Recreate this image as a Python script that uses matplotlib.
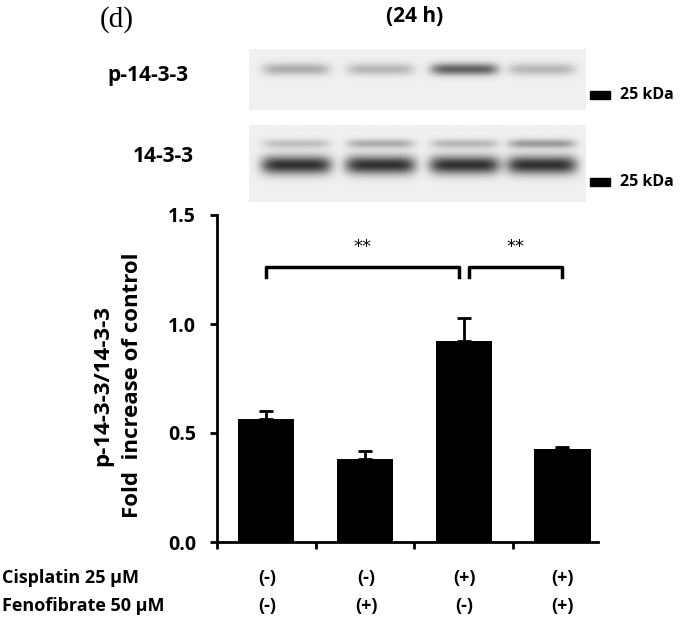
import numpy as np
import matplotlib.pyplot as plt

# bar data
conditions = ["ctrl", "feno", "cis", "cis+feno"]
means = [0.564, 0.381, 0.922, 0.427]
errors = [0.036, 0.036, 0.105, 0.009]
cisplatin = ["(-)", "(-)", "(+)", "(+)"]
fenofibrate = ["(-)", "(+)", "(-)", "(+)"]

# blot band intensities per lane (0..1, darker = higher)
p1433_band = [0.35, 0.3, 0.75, 0.3]
t1433_upper = [0.25, 0.35, 0.3, 0.45]
t1433_main = [1.0, 1.0, 1.0, 1.0]

W, H = 695, 624
fig = plt.figure(figsize=(W / 100, H / 100), dpi=100)
FONT = "Open Sans"


def fx(px):
    return px / W


def fy(py):
    return 1 - py / H


def blot(rect, bands):
    ax = fig.add_axes(rect)
    ny, nx = 100, 340
    yy, xx = np.mgrid[0:1:ny * 1j, 0:1:nx * 1j]
    img = np.zeros((ny, nx))
    centers = [0.14, 0.39, 0.64, 0.87]
    for ypos, sy, sx, vals in bands:
        for cx, v in zip(centers, vals):
            g = np.exp(-((yy - ypos) / sy) ** 2) * np.exp(-((xx - cx) / sx) ** 6)
            img += v * g
    img = np.clip(img, 0, 1.2)
    ax.imshow(1 - 0.9 * img / 1.2 - 0.06, cmap="gray", vmin=0, vmax=1,
              aspect="auto", extent=[0, 1, 1, 0])
    ax.axis("off")


blot([fx(249), fy(110), fx(336), (110 - 49) / H], [(0.33, 0.1, 0.1, p1433_band)])
blot([fx(249), fy(202), fx(336), (202 - 125) / H],
     [(0.24, 0.06, 0.1, t1433_upper), (0.52, 0.12, 0.105, t1433_main)])

# markers and labels
for ym in (95, 182):
    fig.patches.append(plt.Rectangle((fx(590), fy(ym + 4)), fx(20), 8 / H,
                                     transform=fig.transFigure, color="black"))
    fig.text(fx(620), fy(ym), "25 kDa", fontsize=11.5, fontweight="bold",
             family=FONT, va="center")
fig.text(fx(148), fy(76), "p-14-3-3", fontsize=15, fontweight="bold",
         family=FONT, ha="center", va="center")
fig.text(fx(163), fy(157), "14-3-3", fontsize=15, fontweight="bold",
         family=FONT, ha="center", va="center")
fig.text(fx(100), fy(20), "(d)", fontsize=21, family="Liberation Serif",
         ha="left", va="center")
fig.text(fx(415), fy(17), "(24 h)", fontsize=15, fontweight="bold",
         family=FONT, ha="center", va="center")

# bar chart
ax = fig.add_axes([fx(217), fy(542), fx(598 - 217), (542 - 215) / H])
x = np.arange(len(means))
ax.bar(x, means, width=0.57, color="black", zorder=2)
ax.errorbar(x, means, yerr=[np.zeros(4), errors], fmt="none", ecolor="black",
            elinewidth=2, capsize=5, capthick=2)
ax.set_xlim(-0.5, 3.36)
ax.set_ylim(0, 1.5)
ax.set_xticks([-0.5, 0.5, 1.5, 2.5])
ax.set_xticklabels([])
ax.set_yticks([0, 0.5, 1.0, 1.5])
ax.set_yticklabels(["0.0", "0.5", "1.0", "1.5"], fontsize=14, fontweight="bold",
                   family=FONT)
ax.tick_params(width=2, length=5, direction="out")
ax.tick_params(axis="y", pad=10)
for s in ("top", "right"):
    ax.spines[s].set_visible(False)
for s in ("left", "bottom"):
    ax.spines[s].set_linewidth(2)

# significance brackets
for x0, x1 in ((0, 1.95), (2.05, 3)):
    ax.plot([x0, x0, x1, x1], [1.215, 1.26, 1.26, 1.215], color="black", lw=2.5)
    ax.text((x0 + x1) / 2, 1.31, "**", ha="center", va="bottom", fontsize=13)

fig.text(fx(103), fy(385), "p-14-3-3/14-3-3", rotation=90, fontsize=16,
         fontweight="bold", family=FONT, ha="center", va="center")
fig.text(fx(133), fy(385), "Fold  increase of control", rotation=90, fontsize=16,
         fontweight="bold", family=FONT, ha="center", va="center")

# condition table
cols = [267, 366, 464, 563]
for row, (label, vals) in enumerate((("Cisplatin 25 μM", cisplatin),
                                     ("Fenofibrate 50 μM", fenofibrate))):
    ypix = 578 + row * 28
    fig.text(fx(2), fy(ypix), label, fontsize=13, fontweight="bold",
             family=FONT, va="center")
    for cx, v in zip(cols, vals):
        fig.text(fx(cx), fy(ypix), v, fontsize=13, fontweight="bold",
                 family=FONT, ha="center", va="center")

fig.savefig("out.png", dpi=100)
